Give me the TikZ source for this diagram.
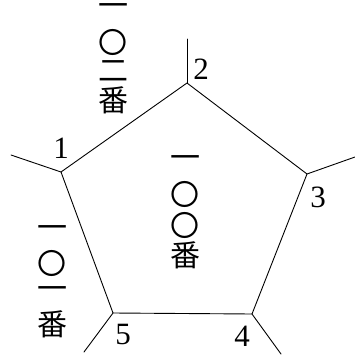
\documentclass[tikz,border=0pt]{standalone}
\usepackage{fontspec}
\setmainfont{Liberation Serif}
\newfontfamily\cjk{Noto Sans CJK JP}
\begin{document}
\begin{tikzpicture}[x=1pt,y=-1pt,
  edge/.style={line width=0.9pt,line cap=round,line join=round},
  num/.style={inner sep=0pt,font=\fontsize{31}{31}\selectfont},
  kan/.style={inner sep=0pt,font=\cjk\fontsize{30}{30}\selectfont},
  ring/.style={inner sep=0pt,font=\cjk\fontsize{29}{29}\selectfont}]
\useasboundingbox (0,0) rectangle (355,359);
% vertices
\coordinate (v1) at (61,172);
\coordinate (v2) at (187,83);
\coordinate (v3) at (307,174);
\coordinate (v4) at (252,314);
\coordinate (v5) at (113,313);
% stub ends
\coordinate (s1) at (11,155);
\coordinate (s2) at (187,39);
\coordinate (s3) at (355,157);
\coordinate (s4) at (281,354);
\coordinate (s5) at (84,352);
\draw[edge] (v1) -- (v2) -- (v3) -- (v4) -- (v5) -- cycle;
\draw[edge] (v1) -- (s1);
\draw[edge] (v2) -- (s2);
\draw[edge] (v3) -- (s3);
\draw[edge] (v4) -- (s4);
\draw[edge] (v5) -- (s5);
% vertex numbers
\node[num] (n1) at (61,148) {1};
\node[num] (n2) at (201,69) {2};
\node[num] (n3) at (318,197) {3};
\node[num] (n4) at (242,336) {4};
\node[num] (n5) at (123,334) {5};
% top-left text
\node[kan] (a1) at (113,10) {一};
\node[ring] (a2) at (113,42) {〇};
\node[kan] (a3) at (113,71) {二};
\node[kan] (a4) at (113,100) {番};
% center text
\node[kan] (c1) at (185,162) {一};
\node[ring] (c2) at (185,194) {〇};
\node[ring] (c3) at (185,225) {〇};
\node[kan] (c4) at (185,255) {番};
% bottom-left text
\node[kan] (b1) at (52,232) {一};
\node[ring] (b2) at (52,263) {〇};
\node[kan] (b3) at (52,293) {一};
\node[kan] (b4) at (52,324) {番};
\end{tikzpicture}
\end{document}
